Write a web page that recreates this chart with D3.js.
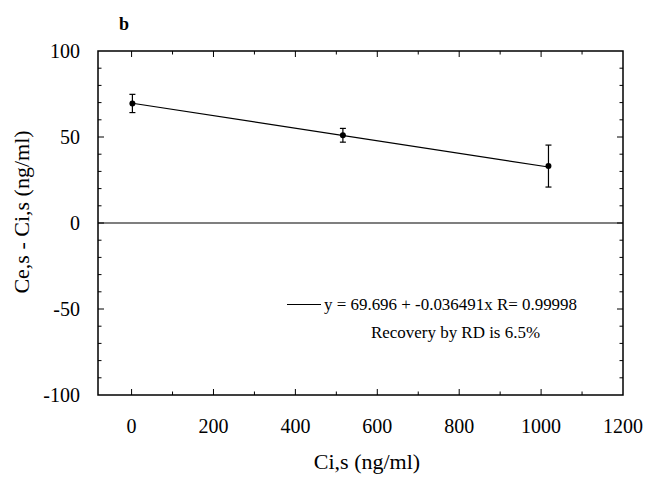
<!DOCTYPE html>
<html>
<head>
<meta charset="utf-8">
<script src="https://cdnjs.cloudflare.com/ajax/libs/d3/7.8.5/d3.min.js"></script>
</head>
<body style="margin:0;background:#fff">
<div id="chart"></div>
<script>
// measured points: Ci,s vs Ce,s - Ci,s, with error bar half-widths
const ciValues = [2, 516, 1018];
const diffValues = [69.5, 51.0, 33.1];
const errValues = [5.3, 4.0, 12.2];

// linear fit shown in legend
const fitIntercept = 69.696;
const fitSlope = -0.036491;

const xTicks = [0, 200, 400, 600, 800, 1000, 1200];
const yTicks = [-100, -50, 0, 50, 100];

const width = 646, height = 481;
const margin = { left: 98, top: 51, right: 23, bottom: 86 };
const serif = "Liberation Serif";

const svg = d3.select("#chart").append("svg")
  .attr("width", width)
  .attr("height", height);

const x = d3.scaleLinear().domain([-82, 1200]).range([margin.left, width - margin.right]);
const y = d3.scaleLinear().domain([-100, 100]).range([height - margin.bottom, margin.top]);

const plotLeft = x.range()[0], plotRight = x.range()[1];
const plotTop = y.range()[1], plotBottom = y.range()[0];

function label(parent) {
  return parent.append("text").attr("font-family", serif).attr("fill", "#000");
}

// inward ticks on all four sides
function tickMarks() {
  const g = svg.append("g").attr("stroke", "#000").attr("stroke-width", 1);
  d3.range(0, 1200, 100).forEach((v) => {
    const len = v % 200 === 0 ? 6 : 3.5;
    g.append("line").attr("x1", x(v)).attr("x2", x(v))
      .attr("y1", plotBottom).attr("y2", plotBottom - len);
    g.append("line").attr("x1", x(v)).attr("x2", x(v))
      .attr("y1", plotTop).attr("y2", plotTop + len);
  });
  d3.range(-90, 100, 10).forEach((v) => {
    const len = v % 50 === 0 ? 6 : 3.5;
    g.append("line").attr("y1", y(v)).attr("y2", y(v))
      .attr("x1", plotLeft).attr("x2", plotLeft + len);
    g.append("line").attr("y1", y(v)).attr("y2", y(v))
      .attr("x1", plotRight).attr("x2", plotRight - len);
  });
}
tickMarks();

// frame
svg.append("rect")
  .attr("x", plotLeft).attr("y", plotTop)
  .attr("width", plotRight - plotLeft).attr("height", plotBottom - plotTop)
  .attr("fill", "none").attr("stroke", "#000").attr("stroke-width", 1.5);

// zero line
svg.append("line")
  .attr("x1", plotLeft).attr("x2", plotRight)
  .attr("y1", y(0)).attr("y2", y(0))
  .attr("stroke", "#000").attr("stroke-width", 1.2);

// tick labels
xTicks.forEach((d) => {
  label(svg).attr("x", x(d)).attr("y", 433)
    .attr("text-anchor", "middle").attr("font-size", 20)
    .text(d);
});
yTicks.forEach((d) => {
  label(svg).attr("x", 80).attr("y", y(d)).attr("dy", "0.35em")
    .attr("text-anchor", "end").attr("font-size", 20)
    .text(d);
});

// fit line
const xMin = d3.min(ciValues), xMax = d3.max(ciValues);
svg.append("line")
  .attr("x1", x(xMin)).attr("y1", y(fitIntercept + fitSlope * xMin))
  .attr("x2", x(xMax)).attr("y2", y(fitIntercept + fitSlope * xMax))
  .attr("stroke", "#000").attr("stroke-width", 1.2);

// error bars and points
const pts = ciValues.map((c, i) => ({ c, v: diffValues[i], e: errValues[i] }));
const eb = svg.append("g").attr("stroke", "#000").attr("stroke-width", 1.2);
pts.forEach((p) => {
  eb.append("line").attr("x1", x(p.c)).attr("x2", x(p.c))
    .attr("y1", y(p.v - p.e)).attr("y2", y(p.v + p.e));
  [p.v - p.e, p.v + p.e].forEach((v) => {
    eb.append("line").attr("x1", x(p.c) - 3).attr("x2", x(p.c) + 3)
      .attr("y1", y(v)).attr("y2", y(v));
  });
});
svg.append("g").selectAll("circle").data(pts).enter().append("circle")
  .attr("cx", (d) => x(d.c)).attr("cy", (d) => y(d.v))
  .attr("r", 3).attr("fill", "#000");

// legend
svg.append("line")
  .attr("x1", 287).attr("x2", 321).attr("y1", 304.5).attr("y2", 304.5)
  .attr("stroke", "#000").attr("stroke-width", 1);
label(svg)
  .attr("x", 324).attr("y", 309.5)
  .attr("font-size", 16)
  .attr("textLength", 253).attr("lengthAdjust", "spacingAndGlyphs")
  .text("y = 69.696 + -0.036491x R= 0.99998");
label(svg)
  .attr("x", 371).attr("y", 338)
  .attr("font-size", 16)
  .attr("textLength", 169).attr("lengthAdjust", "spacingAndGlyphs")
  .text("Recovery by RD is 6.5%");

// panel letter
label(svg)
  .attr("x", 119).attr("y", 30)
  .attr("font-size", 18).attr("font-weight", "bold")
  .text("b");

// axis titles
label(svg)
  .attr("x", 367).attr("y", 469)
  .attr("text-anchor", "middle").attr("font-size", 22)
  .text("Ci,s (ng/ml)");
label(svg)
  .attr("transform", "translate(29,212) rotate(-90)")
  .attr("text-anchor", "middle").attr("font-size", 22)
  .text("Ce,s - Ci,s (ng/ml)");
</script>
</body>
</html>
